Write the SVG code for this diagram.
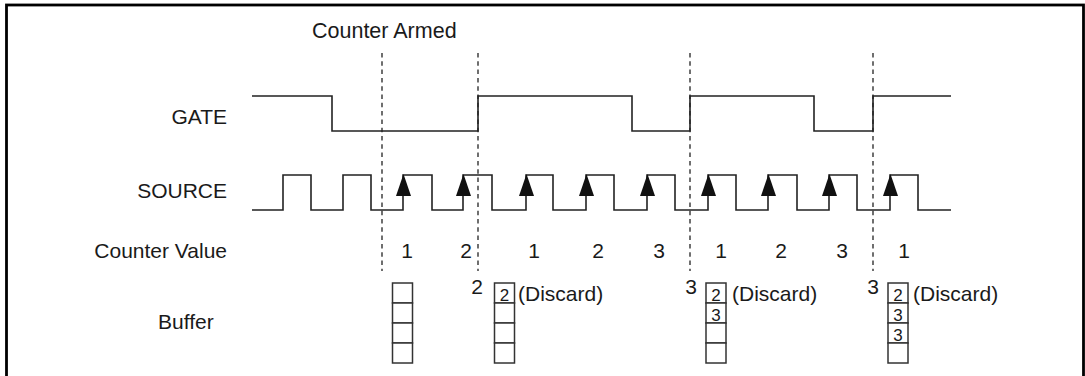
<svg xmlns="http://www.w3.org/2000/svg" xmlns:xlink="http://www.w3.org/1999/xlink" width="1085" height="376" viewBox="0 0 1085 376">
<style>
text{font-family:"Liberation Sans",Arial,sans-serif;font-size:21px;fill:#1a1a1a}
.lbl{text-anchor:end}
.num{text-anchor:middle}
.cell{font-size:17px;text-anchor:middle}
.sig{fill:none;stroke:#222;stroke-width:1.6}
.dash{fill:none;stroke:#222;stroke-width:1.3;stroke-dasharray:4.5 3.8}
.box{fill:#fff;stroke:#333;stroke-width:1.5}
.arr{fill:#111}
</style>
<defs>
<path id="arr" d="M0,-1 L7.5,21 L-7.5,21 Z"/>
</defs>
<rect x="6.5" y="5" width="1077" height="380" fill="#fff" stroke="#000" stroke-width="2.8"/>
<g id="labels">
<text x="312" y="38" style="font-size:21.5px">Counter Armed</text>
<text class="lbl" x="227" y="124">GATE</text>
<text class="lbl" x="227" y="198">SOURCE</text>
<text class="lbl" x="227" y="258">Counter Value</text>
<text x="158" y="329">Buffer</text>
</g>
<g id="gate">
<path class="sig" d="M252,96 H332 V131 H478 V96 H632 V131 H690 V96 H814 V131 H873 V96 H951"/>
</g>
<g id="source">
<path class="sig" d="M252,210 H283 V175 H311 V210 H343 V175 H371 V210 H403 V175 H432 V210 H463 V175 H492 V210 H526 V175 H553 V210 H586 V175 H614 V210 H647 V175 H675 V210 H708 V175 H736 V210 H768 V175 H797 V210 H829 V175 H857 V210 H890 V175 H918 V210 H951"/>
<g class="arr">
<use xlink:href="#arr" x="403.5" y="175"/>
<use xlink:href="#arr" x="463.5" y="175"/>
<use xlink:href="#arr" x="526.5" y="175"/>
<use xlink:href="#arr" x="586.5" y="175"/>
<use xlink:href="#arr" x="647.5" y="175"/>
<use xlink:href="#arr" x="708.5" y="175"/>
<use xlink:href="#arr" x="768.5" y="175"/>
<use xlink:href="#arr" x="829.5" y="175"/>
<use xlink:href="#arr" x="890.5" y="175"/>
</g>
</g>
<g id="markers">
<line class="dash" x1="382" y1="53" x2="382" y2="271"/>
<line class="dash" x1="478" y1="53" x2="478" y2="271"/>
<line class="dash" x1="690" y1="53" x2="690" y2="271"/>
<line class="dash" x1="873" y1="53" x2="873" y2="271"/>
</g>
<g id="counter-values">
<text class="num" x="407" y="258">1</text>
<text class="num" x="466" y="258">2</text>
<text class="num" x="534" y="258">1</text>
<text class="num" x="598" y="258">2</text>
<text class="num" x="659" y="258">3</text>
<text class="num" x="721" y="258">1</text>
<text class="num" x="781" y="258">2</text>
<text class="num" x="842" y="258">3</text>
<text class="num" x="904" y="258">1</text>
</g>
<g id="buffer1">
<rect class="box" x="392.5" y="283" width="20" height="20"/>
<rect class="box" x="392.5" y="303" width="20" height="20"/>
<rect class="box" x="392.5" y="323" width="20" height="20"/>
<rect class="box" x="392.5" y="343" width="20" height="20"/>
</g>
<g id="buffer2">
<text class="num" x="477" y="294">2</text>
<rect class="box" x="494.5" y="283" width="20" height="20"/>
<rect class="box" x="494.5" y="303" width="20" height="20"/>
<rect class="box" x="494.5" y="323" width="20" height="20"/>
<rect class="box" x="494.5" y="343" width="20" height="20"/>
<text class="cell" x="504.5" y="301">2</text>
<text x="518" y="301">(Discard)</text>
</g>
<g id="buffer3">
<text class="num" x="691" y="294">3</text>
<rect class="box" x="706" y="283" width="20" height="20"/>
<rect class="box" x="706" y="303" width="20" height="20"/>
<rect class="box" x="706" y="323" width="20" height="20"/>
<rect class="box" x="706" y="343" width="20" height="20"/>
<text class="cell" x="716" y="301">2</text>
<text class="cell" x="716" y="321">3</text>
<text x="732" y="301">(Discard)</text>
</g>
<g id="buffer4">
<text class="num" x="873" y="294">3</text>
<rect class="box" x="888" y="283" width="20" height="20"/>
<rect class="box" x="888" y="303" width="20" height="20"/>
<rect class="box" x="888" y="323" width="20" height="20"/>
<rect class="box" x="888" y="343" width="20" height="20"/>
<text class="cell" x="898" y="301">2</text>
<text class="cell" x="898" y="321">3</text>
<text class="cell" x="898" y="341">3</text>
<text x="913" y="301">(Discard)</text>
</g>
</svg>
